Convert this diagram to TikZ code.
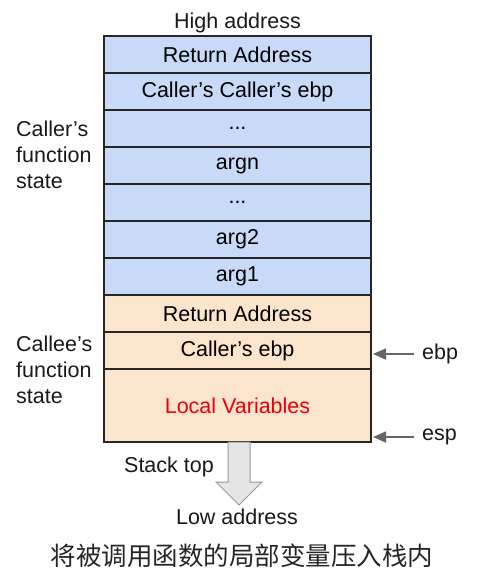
\documentclass[tikz,border=0pt]{standalone}
\usepackage{fontspec}
\setmainfont{Liberation Sans}
\newfontfamily\cjk{Noto Sans CJK SC}
\usetikzlibrary{positioning, arrows.meta, calc}

\definecolor{azulpila}{HTML}{C9DAF8}
\definecolor{naranjapila}{HTML}{FCE5CD}
\definecolor{rojotexto}{HTML}{E8000B}
\definecolor{grisflecha}{HTML}{666666}

\begin{document}
\begin{tikzpicture}[
		x=1pt, y=-1pt,
		% Celdas de la pila
		celda/.style={draw=black!85, line width=1.6pt, rectangle, minimum width=267pt, minimum height=37pt, outer sep=0pt, inner sep=0pt, align=center, font=\fontsize{21.5}{24}\selectfont},
		llamante/.style={celda, fill=azulpila},
		llamado/.style={celda, fill=naranjapila},
		% Textos y punteros
		etiqueta/.style={font=\fontsize{21.5}{26}\selectfont, text=black!90, inner sep=2pt},
		puntero/.style={line width=1.8pt, draw=grisflecha}
		]
		\useasboundingbox (0,0) rectangle (485,584);
		
		% --- MARCO DEL LLAMANTE ---
		\node[llamante, anchor=north west] (ret_llamante) at (104,36) {Return Address};
		\node[llamante, below=0pt of ret_llamante] (ebp_abuelo) {Caller’s Caller’s ebp};
		\node[llamante, below=0pt of ebp_abuelo] (puntos_a) {...};
		\node[llamante, below=0pt of puntos_a] (argn) {argn};
		\node[llamante, below=0pt of argn] (puntos_b) {...};
		\node[llamante, below=0pt of puntos_b] (arg2) {arg2};
		\node[llamante, below=0pt of arg2] (arg1) {arg1};
		
		% --- MARCO DEL LLAMADO ---
		\node[llamado, below=0pt of arg1] (ret_llamado) {Return Address};
		\node[llamado, below=0pt of ret_llamado] (ebp_llamante) {Caller’s ebp};
		\node[llamado, below=0pt of ebp_llamante, minimum height=73pt, text=rojotexto] (locales) {Local Variables};
		
		% --- ETIQUETAS LATERALES ---
		\node[etiqueta, above=1pt of ret_llamante] (alta) {High address};
		\node[etiqueta, align=left, anchor=north west] (estado_llamante) at (14,119) {Caller’s\\function\\state};
		\node[etiqueta, align=left, anchor=north west] (estado_llamado) at (14,334) {Callee’s\\function\\state};
		
		% --- PUNTEROS ebp / esp ---
		\node[etiqueta, anchor=west] (ebp) at (420,354) {ebp};
		\node[etiqueta, anchor=west] (esp) at (420,437) {esp};
		\draw[puntero, -{Triangle[length=13pt, width=11pt]}, shorten <=6pt, shorten >=2pt] (ebp.west) -- (ebp.west -| locales.east);
		\draw[puntero, -{Triangle[length=13pt, width=11pt]}, shorten <=6pt, shorten >=2pt] (esp.west) -- (esp.west -| locales.east);
		
		% --- CRECIMIENTO DE LA PILA ---
		\coordinate (tope) at ($(locales.south)+(1.5,0)$);
		\draw[draw=black!40, fill=black!10, line width=1pt]
			($(tope)+(-11,0)$) -- ($(tope)+(11,0)$) -- ($(tope)+(11,40)$) -- ($(tope)+(23,40)$)
			-- ($(tope)+(0,63)$) -- ($(tope)+(-23,40)$) -- ($(tope)+(-11,40)$) -- cycle;
		\node[etiqueta, anchor=east] (cima) at (216,467) {Stack top};
		\node[etiqueta] (baja) at (237,517) {Low address};
		
		% Pie de figura
		\node[font=\cjk\fontsize{25.5}{30}\selectfont, text=black!85] (pie) at (242,556) {将被调用函数的局部变量压入栈内};
		
	\end{tikzpicture}
\end{document}
